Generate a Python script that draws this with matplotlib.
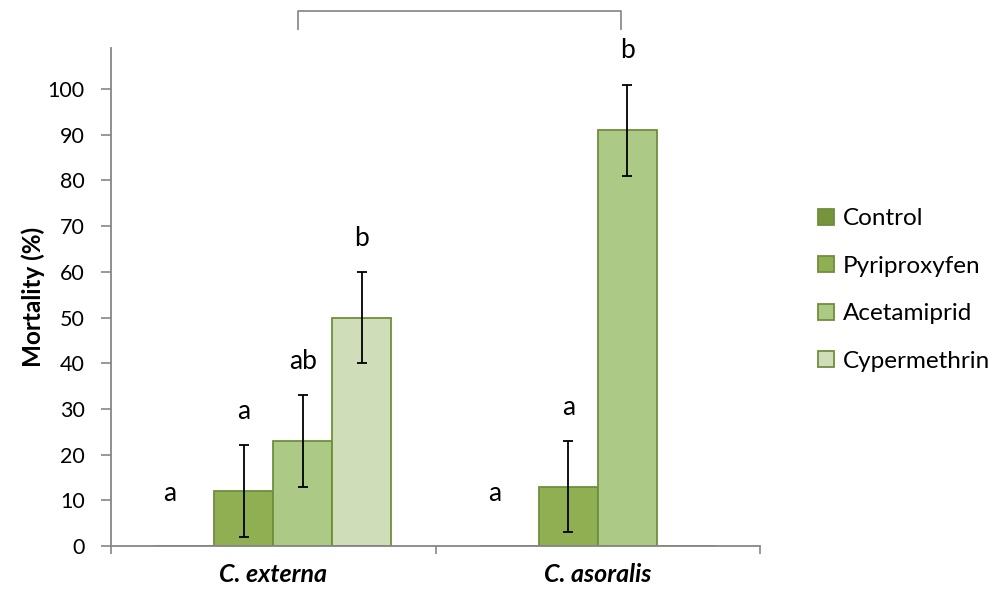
import matplotlib
matplotlib.use("Agg")
import matplotlib.pyplot as plt
import numpy as np

plt.rcParams['font.family'] = ['Lato', 'DejaVu Sans']

categories = ["C. externa", "C. asoralis"]
treatments = ["Control", "Pyriproxyfen", "Acetamiprid", "Cypermethrin"]
values = {
    "Control":      [0, 0],
    "Pyriproxyfen": [12, 13],
    "Acetamiprid":  [23, 91],
    "Cypermethrin": [50, 0],
}
errors = {
    "Control":      [None, None],
    "Pyriproxyfen": [10, 10],
    "Acetamiprid":  [10, 10],
    "Cypermethrin": [10, None],
}
letters = {
    "Control":      ["a", "a"],
    "Pyriproxyfen": ["a", "a"],
    "Acetamiprid":  ["ab", "b"],
    "Cypermethrin": ["b", None],
}
colors = ["#77933C", "#8FAF52", "#ADC986", "#D0DDB9"]
edge = "#6E8F3A"

fig = plt.figure(figsize=(9.94, 5.95), dpi=100)
ax = fig.add_axes([111/994, 1-546/595, (760-111)/994, (546-48)/595])

x = np.arange(len(categories))
width = 0.182
fs = 15.5
fs_letter = 19
for i, t in enumerate(treatments):
    pos = x + (i - 1.5) * width
    ax.bar(pos, values[t], width, color=colors[i], edgecolor=edge, linewidth=1.3,
           label=t, zorder=2)
    for j in range(len(categories)):
        e = errors[t][j]
        v = values[t][j]
        if e is not None:
            ax.errorbar(pos[j], v, yerr=e, fmt='none', ecolor='black',
                        elinewidth=1.3, capsize=3.8, capthick=1.3, zorder=3)
        lab = letters[t][j]
        if lab is None:
            continue
        if v == 0:
            ax.text(pos[j] - 0.045, 11.6, lab, ha='center', va='center', fontsize=fs_letter)
        else:
            ax.text(pos[j], v + (e or 0) + 7.4, lab, ha='center', va='center', fontsize=fs_letter)

ax.set_xlim(-0.5, 1.5)
ax.set_ylim(0, 109)
ax.set_yticks(np.arange(0, 101, 10))
ax.set_xticks(x)
ax.set_xticklabels(categories, fontsize=18, fontweight='bold', fontstyle='italic')
ax.set_xticks([-0.5, 0.5, 1.5], minor=True)
ax.tick_params(axis='x', which='major', length=0, pad=12)
ax.tick_params(axis='x', which='minor', length=6, width=1.2, color='#868686', direction='out')
ax.tick_params(axis='y', labelsize=fs, length=7, width=1.2, color='#868686', pad=12)
for s in ['top', 'right']:
    ax.spines[s].set_visible(False)
for s in ['left', 'bottom']:
    ax.spines[s].set_color('#868686')
    ax.spines[s].set_linewidth(1.3)
ax.set_ylabel("Mortality (%)", fontsize=17.5, fontweight='bold', labelpad=2)

# significance bracket above the two groups
ax.plot([0.076, 0.076, 1.0717, 1.0717], [113.1, 117.0, 117.0, 113.1],
        color='#8C8C8C', linewidth=1.3, clip_on=False)

leg = ax.legend(loc='center left', bbox_to_anchor=(1.075, 0.514), frameon=False,
                fontsize=17.5, handlelength=0.66, handleheight=0.66, handletextpad=0.35,
                labelspacing=1.09, borderaxespad=0)

fig.savefig("out.png", dpi=100)
